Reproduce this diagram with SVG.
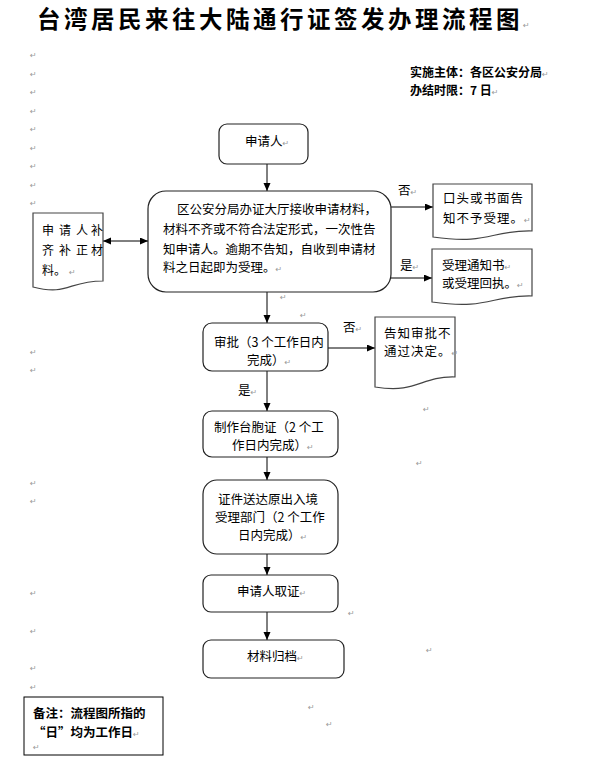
<svg xmlns="http://www.w3.org/2000/svg" width="594" height="759" viewBox="0 0 594 759">
<style>
.t{font-family:"Noto Sans CJK SC","Liberation Sans",sans-serif;font-size:12.5px;fill:#000}
.b{font-weight:700}
.title{font-family:"Noto Sans CJK SC","Liberation Sans",sans-serif;font-size:23.5px;font-weight:700;letter-spacing:3.5px;fill:#000}
.pm{font-family:"DejaVu Sans",sans-serif;font-size:8px;fill:#999;font-weight:400;letter-spacing:0}
.box{fill:#fff;stroke:#222;stroke-width:1.2}
.doc{fill:#fff;stroke:#444;stroke-width:1.2}
.note{fill:#fff;stroke:#000;stroke-width:1}
.ln{fill:none;stroke:#000;stroke-width:1}
</style>
<defs>
<marker id="ah" markerWidth="9" markerHeight="8" refX="8" refY="3.5" orient="auto-start-reverse" markerUnits="userSpaceOnUse">
<path d="M0,0 L8,3.5 L0,7 Z" fill="#000"/>
</marker>
</defs>
<rect width="594" height="759" fill="#fff"/>

<g id="title">
<text class="title" x="37" y="28">台湾居民来往大陆通行证签发办理流程图<tspan class="pm">↵</tspan></text>
</g>
<g id="info">
<text class="t b" x="410" y="77" style="font-size:12px">实施主体：各区公安分局<tspan class="pm">↵</tspan></text>
<text class="t b" x="410" y="95" style="font-size:12px">办结时限：7 日<tspan class="pm">↵</tspan></text>
</g>

<g id="marks">
<text class="pm" x="30" y="58">↵</text>
<text class="pm" x="30" y="77">↵</text>
<text class="pm" x="30" y="95">↵</text>
<text class="pm" x="30" y="114">↵</text>
<text class="pm" x="30" y="132">↵</text>
<text class="pm" x="30" y="151">↵</text>
<text class="pm" x="30" y="169">↵</text>
<text class="pm" x="30" y="188">↵</text>
<text class="pm" x="30" y="206">↵</text>
<text class="pm" x="30" y="355">↵</text>
<text class="pm" x="30" y="373">↵</text>
<text class="pm" x="30" y="486">↵</text>
<text class="pm" x="30" y="504">↵</text>
<text class="pm" x="30" y="596">↵</text>
<text class="pm" x="30" y="634">↵</text>
<text class="pm" x="30" y="671">↵</text>
<text class="pm" x="30" y="690">↵</text>
<text class="pm" x="280" y="300">↵</text>
<text class="pm" x="300" y="318">↵</text>
<text class="pm" x="423" y="412">↵</text>
<text class="pm" x="416" y="466">↵</text>
<text class="pm" x="348" y="616">↵</text>
<text class="pm" x="426" y="653">↵</text>
<text class="pm" x="308" y="710">↵</text>
<text class="pm" x="326" y="727">↵</text>
</g>

<g id="connectors">
<line class="ln" x1="267" y1="164" x2="267" y2="191" marker-end="url(#ah)"/>
<line class="ln" x1="267" y1="292" x2="267" y2="323" marker-end="url(#ah)"/>
<line class="ln" x1="391" y1="207" x2="433" y2="207" marker-end="url(#ah)"/>
<line class="ln" x1="391" y1="278" x2="432" y2="278" marker-end="url(#ah)"/>
<line class="ln" x1="103" y1="241" x2="148" y2="241" marker-start="url(#ah)" marker-end="url(#ah)"/>
<line class="ln" x1="328" y1="348" x2="375" y2="348" marker-end="url(#ah)"/>
<line class="ln" x1="267" y1="371" x2="267" y2="411" marker-end="url(#ah)"/>
<line class="ln" x1="267" y1="457" x2="267" y2="480" marker-end="url(#ah)"/>
<line class="ln" x1="267" y1="554" x2="267" y2="575" marker-end="url(#ah)"/>
<line class="ln" x1="267" y1="612" x2="267" y2="640" marker-end="url(#ah)"/>
<text class="t" x="398" y="194.5">否<tspan class="pm">↵</tspan></text>
<text class="t" x="400" y="269.5">是<tspan class="pm">↵</tspan></text>
<text class="t" x="343" y="332">否<tspan class="pm">↵</tspan></text>
<text class="t" x="238" y="395">是<tspan class="pm">↵</tspan></text>
</g>

<g id="n-applicant">
<rect class="box" x="219" y="124" width="89" height="40" rx="8"/>
<text class="t" x="245" y="145.5">申请人<tspan class="pm">↵</tspan></text>
</g>

<g id="n-receive">
<rect class="box" x="148" y="191" width="243" height="101" rx="18"/>
<text class="t" x="177" y="213.5">区公安分局办证大厅接收申请材料，</text>
<text class="t" x="163" y="233.5">材料不齐或不符合法定形式，一次性告</text>
<text class="t" x="163" y="253.5">知申请人。逾期不告知，自收到申请材</text>
<text class="t" x="163" y="271.5">料之日起即为受理。<tspan class="pm">↵</tspan></text>
</g>

<g id="n-supplement">
<path class="doc" d="M33,213 H103 V281 C68,281 68,296 33,287 Z"/>
<text class="t" x="42 59 76 91" y="235" style="font-size:12px">申请人补</text>
<text class="t" x="42 59 76 91" y="254.5" style="font-size:12px">齐补正材</text>
<text class="t" x="42" y="274.5" style="font-size:12px">料。<tspan class="pm" dx="3">↵</tspan></text>
</g>

<g id="n-reject">
<path class="doc" d="M433,184 H532 V231 C490,230 490,245 433,237 Z"/>
<text class="t" x="443" y="203" style="letter-spacing:1px">口头或书面告</text>
<text class="t" x="443" y="222.5" style="letter-spacing:1px">知不予受理。<tspan class="pm">↵</tspan></text>
</g>

<g id="n-accept">
<path class="doc" d="M432,249 H532 V296 C490,295 490,310 432,302 Z"/>
<text class="t" x="442" y="269.5">受理通知书<tspan class="pm">↵</tspan></text>
<text class="t" x="442" y="287.5">或受理回执。<tspan class="pm">↵</tspan></text>
</g>

<g id="n-approve">
<rect class="box" x="203" y="323" width="125" height="48" rx="9"/>
<text class="t" x="214" y="346.5">审批（3 个工作日内</text>
<text class="t" x="247" y="364.5">完成）<tspan class="pm">↵</tspan></text>
</g>

<g id="n-deny">
<path class="doc" d="M375,317 H455 V377 C420,376 418,394 375,387 Z"/>
<text class="t" x="384" y="337.5" style="letter-spacing:1px">告知审批不</text>
<text class="t" x="384" y="355.5" style="letter-spacing:1px">通过决定。<tspan class="pm">↵</tspan></text>
</g>

<g id="n-make">
<rect class="box" x="203" y="411" width="135" height="46" rx="9"/>
<text class="t" x="214" y="431.5">制作台胞证（2 个工</text>
<text class="t" x="232" y="449.5">作日内完成）<tspan class="pm">↵</tspan></text>
</g>

<g id="n-deliver">
<rect class="box" x="203" y="480" width="135" height="74" rx="14"/>
<text class="t" x="218" y="503.5">证件送达原出入境</text>
<text class="t" x="215" y="521.5">受理部门（2 个工作</text>
<text class="t" x="238" y="539.5">日内完成）<tspan class="pm">↵</tspan></text>
</g>

<g id="n-collect">
<rect class="box" x="203" y="575" width="135" height="37" rx="8"/>
<text class="t" x="237" y="595.5">申请人取证<tspan class="pm">↵</tspan></text>
</g>

<g id="n-archive">
<rect class="box" x="203" y="640" width="141" height="38" rx="8"/>
<text class="t" x="247" y="660.5">材料归档<tspan class="pm">↵</tspan></text>
</g>

<g id="n-note">
<rect class="note" x="24" y="697" width="139" height="58"/>
<text class="t b" x="33" y="717.5">备注：流程图所指的</text>
<text class="t b" x="33" y="736.5">“日”均为工作日<tspan class="pm">↵</tspan></text>
<text class="pm" x="33" y="750">↵</text>
</g>
</svg>
